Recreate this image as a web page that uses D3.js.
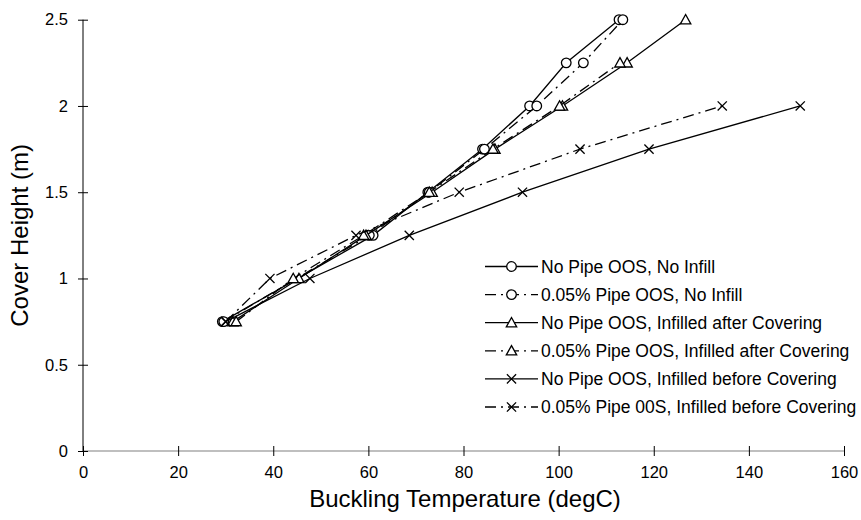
<!DOCTYPE html>
<html>
<head>
<meta charset="utf-8">
<script src="https://cdn.jsdelivr.net/npm/d3@7/dist/d3.min.js"></script>
<style>
  html, body { margin: 0; padding: 0; background: #fff; }
  svg { display: block; font-family: "Liberation Sans", Arial, sans-serif; }
</style>
</head>
<body>
<svg id="chart" width="861" height="520"></svg>
<script>
// Cover height levels (m)
const coverHeights = [0.75, 1.0, 1.25, 1.5, 1.75, 2.0, 2.25, 2.5];

// Buckling temperature (degC) for each case, aligned with coverHeights (null = not run)
const noOosNoInfill        = [29.3, null, 61.0, 72.5, 84.0, 93.9, 101.6, 112.7];
const oosNoInfill          = [29.6, null, 60.2, 72.8, 84.4, 95.4, 105.2, 113.5];
const noOosInfillAfter     = [31.5, 45.4, 59.5, 73.4, 86.6, 100.8, 114.4, 126.7];
const oosInfillAfter       = [32.2, 44.2, 59.0, 72.8, 86.2, 100.2, 112.9, null];
const noOosInfillBefore    = [30.0, 47.7, 68.6, 92.4, 119.0, 150.8, null, null];
const oosInfillBefore      = [30.0, 39.3, 57.4, 79.1, 104.5, 134.4, null, null];

const seriesNames = [
  "No Pipe OOS, No Infill",
  "0.05% Pipe OOS, No Infill",
  "No Pipe OOS, Infilled after Covering",
  "0.05% Pipe OOS, Infilled after Covering",
  "No Pipe OOS, Infilled before Covering",
  "0.05% Pipe 00S, Infilled before Covering"
];
const seriesValues = [noOosNoInfill, oosNoInfill, noOosInfillAfter, oosInfillAfter, noOosInfillBefore, oosInfillBefore];
const seriesMarkers = ["circle", "circle", "triangle", "triangle", "cross", "cross"];
const seriesDashed = [false, true, false, true, false, true];

const xTicks = [0, 20, 40, 60, 80, 100, 120, 140, 160];
const yTicks = [0, 0.5, 1, 1.5, 2, 2.5];

const svg = d3.select("#chart");
const plotLeft = 83, plotRight = 844, plotTop = 19.7, plotBottom = 451;

const x = d3.scaleLinear().domain([0, 160]).range([plotLeft, plotRight]);
const y = d3.scaleLinear().domain([0, 2.5]).range([plotBottom, plotTop]);

// Axes
const xAxis = svg.append("g").attr("transform", `translate(0,${plotBottom})`)
  .call(d3.axisBottom(x).tickValues(xTicks).tickSize(5).tickPadding(10).tickFormat(d3.format("d")));
xAxis.select(".domain").remove();
xAxis.insert("line", ":first-child").attr("x1", plotLeft).attr("x2", plotRight).attr("y1", 0).attr("y2", 0)
  .attr("stroke", "#808080").attr("stroke-width", 1.2);
xAxis.selectAll(".tick line").attr("y1", -5).attr("y2", 5).attr("stroke", "#000");
xAxis.selectAll(".tick text").attr("font-size", 16.5).attr("fill", "#000");

const yAxis = svg.append("g").attr("transform", `translate(${plotLeft},0)`)
  .call(d3.axisLeft(y).tickValues(yTicks).tickSize(5).tickPadding(10).tickFormat(d => String(d)));
yAxis.select(".domain").attr("d", `M0,${plotTop}V${plotBottom}`).attr("stroke", "#000");
yAxis.selectAll(".tick line").attr("x1", -5).attr("x2", 5).attr("stroke", "#000");
yAxis.selectAll(".tick text").attr("font-size", 16.5).attr("fill", "#000");

// Axis titles
svg.append("text").attr("x", 465).attr("y", 507)
  .attr("text-anchor", "middle").attr("font-size", 24).text("Buckling Temperature (degC)");
svg.append("text").attr("transform", `translate(28,${(plotTop + plotBottom) / 2}) rotate(-90)`)
  .attr("text-anchor", "middle").attr("font-size", 24).text("Cover Height (m)");

// Marker drawing
function drawMarker(g, type, cx, cy) {
  if (type === "circle") {
    g.append("circle").attr("cx", cx).attr("cy", cy).attr("r", 4.8)
      .attr("fill", "#fff").attr("stroke", "#000").attr("stroke-width", 1.3);
  } else if (type === "triangle") {
    const s = 5.2;
    g.append("path").attr("d", `M${cx},${cy - s}L${cx + s},${cy + s * 0.8}L${cx - s},${cy + s * 0.8}Z`)
      .attr("fill", "#fff").attr("stroke", "#000").attr("stroke-width", 1.3);
  } else {
    const s = 4.6;
    g.append("path").attr("d", `M${cx - s},${cy - s}L${cx + s},${cy + s}M${cx - s},${cy + s}L${cx + s},${cy - s}`)
      .attr("stroke", "#000").attr("stroke-width", 1.3);
  }
}

const dash = "11,5,2,5";
const line = d3.line().x(d => x(d[0])).y(d => y(d[1]));

seriesValues.forEach((vals, i) => {
  const pts = vals.map((v, j) => [v, coverHeights[j]]).filter(p => p[0] !== null);
  const g = svg.append("g");
  g.append("path").datum(pts).attr("d", line).attr("fill", "none")
    .attr("stroke", "#000").attr("stroke-width", 1.3)
    .attr("stroke-dasharray", seriesDashed[i] ? dash : null);
  pts.forEach(p => drawMarker(g, seriesMarkers[i], x(p[0]), y(p[1])));
});

// Legend
const legend = svg.append("g");
seriesNames.forEach((name, i) => {
  const ly = 266.5 + i * 28.1;
  const g = legend.append("g");
  g.append("line").attr("x1", 485).attr("x2", 538).attr("y1", ly).attr("y2", ly)
    .attr("stroke", "#000").attr("stroke-width", 1.3)
    .attr("stroke-dasharray", seriesDashed[i] ? dash : null);
  drawMarker(g, seriesMarkers[i], 511.5, ly);
  g.append("text").attr("x", 541).attr("y", ly).attr("dy", "0.35em")
    .attr("font-size", 17.5).text(name);
});
</script>
</body>
</html>
